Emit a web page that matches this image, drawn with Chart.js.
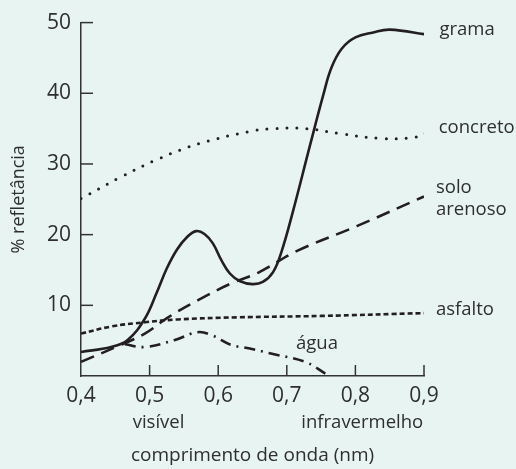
<!DOCTYPE html>
<html>
<head>
<meta charset="utf-8">
<script src="https://cdn.jsdelivr.net/npm/chart.js@4.4.0/dist/chart.umd.min.js"></script>
<style>
  html, body { margin: 0; padding: 0; background: #e8f4f2; }
  #wrap { width: 516px; height: 469px; }
</style>
</head>
<body>
<div id="wrap"><canvas id="ch"></canvas></div>
<script>
// values (wavelength on x, reflectance % on y)
const gramaX = [0.4, 0.444, 0.468, 0.493, 0.51, 0.525, 0.54, 0.555, 0.568, 0.58, 0.592, 0.604, 0.617, 0.632, 0.65, 0.665, 0.68, 0.692, 0.709, 0.734, 0.753, 0.765, 0.78, 0.8, 0.826, 0.85, 0.905];
const gramaY = [3.4, 4.1, 5.1, 8.1, 11.7, 15.2, 17.9, 19.7, 20.5, 20.1, 18.8, 16.5, 14.5, 13.4, 13.0, 13.3, 14.7, 17.5, 23.3, 32.7, 39.7, 43.6, 46.3, 47.9, 48.6, 49.0, 48.3];

const concretoX = [0.4, 0.457, 0.515, 0.573, 0.651, 0.68, 0.729, 0.777, 0.84, 0.887, 0.904];
const concretoY = [25.1, 28.1, 30.8, 32.9, 34.7, 35.0, 35.0, 34.3, 33.6, 33.8, 34.4];

const soloX = [0.4, 0.458, 0.493, 0.527, 0.57, 0.619, 0.658, 0.715, 0.802, 0.9];
const soloY = [2.0, 4.4, 6.0, 8.3, 10.7, 13.1, 14.6, 17.7, 21.2, 25.4];

const asfaltoX = [0.4, 0.444, 0.493, 0.541, 0.627, 0.75, 0.9];
const asfaltoY = [6.0, 7.0, 7.6, 8.0, 8.3, 8.5, 8.9];

const aguaX = [0.464, 0.493, 0.537, 0.57, 0.59, 0.619, 0.646, 0.68, 0.727, 0.757];
const aguaY = [4.5, 4.1, 5.1, 6.2, 5.8, 4.4, 3.9, 3.1, 2.0, 0.3];

const xTicks = [0.4, 0.5, 0.6, 0.7, 0.8, 0.9];
const yTicks = [10, 20, 30, 40, 50];

const seriesNames = ["grama", "concreto", "solo arenoso", "asfalto", "água"];
const bandLabels = ["visível", "infravermelho"];
const bandCenters = [0.513, 0.81];

const INK = "#231f20";
const TXT = "#2e2e2e";
const FONT = "'Open Sans', sans-serif";

const pts = (xs, ys) => xs.map((x, i) => ({ x: x, y: ys[i] }));

function series(label, xs, ys, dash, width, cap) {
  return {
    label: label,
    data: pts(xs, ys),
    borderColor: INK,
    borderWidth: width,
    borderDash: dash,
    borderCapStyle: cap || "butt",
    pointRadius: 0,
    tension: 0.4,
    fill: false
  };
}

// inward tick marks + text labels for the series and the bands
const decorations = {
  id: "decorations",
  afterDraw(chart) {
    const ctx = chart.ctx;
    const xs = chart.scales.x, ys = chart.scales.y;
    const area = chart.chartArea;
    ctx.save();
    ctx.strokeStyle = "#333";
    ctx.lineWidth = 1.5;
    yTicks.forEach(v => {
      const py = ys.getPixelForValue(v);
      ctx.beginPath();
      ctx.moveTo(area.left, py);
      ctx.lineTo(area.left + 12, py);
      ctx.stroke();
    });
    xTicks.slice(1).forEach(v => {
      const px = xs.getPixelForValue(v);
      ctx.beginPath();
      ctx.moveTo(px, area.bottom);
      ctx.lineTo(px, area.bottom - 11);
      ctx.stroke();
    });

    ctx.fillStyle = TXT;
    ctx.font = "18.5px " + FONT;
    ctx.textBaseline = "middle";

    // end-of-line labels
    ctx.textAlign = "left";
    const dy = [-5, -5, 0, -3];
    [0, 1, 2, 3].forEach(i => {
      const meta = chart.getDatasetMeta(i);
      const last = meta.data[meta.data.length - 1];
      const lx = last.x + 12;
      if (i === 2) {
        const parts = seriesNames[i].split(" ");
        ctx.fillText(parts[0], lx, last.y - 9);
        ctx.fillText(parts[1], lx, last.y + 13);
      } else {
        ctx.fillText(seriesNames[i], lx, last.y + dy[i]);
      }
    });
    ctx.textAlign = "center";
    ctx.fillText(seriesNames[4], xs.getPixelForValue(0.744), ys.getPixelForValue(4.6));

    // band labels under the tick labels
    bandLabels.forEach((t, i) => {
      ctx.fillText(t, xs.getPixelForValue(bandCenters[i]), area.bottom + 47);
    });
    ctx.restore();
  }
};

new Chart(document.getElementById("ch"), {
  type: "line",
  data: {
    datasets: [
      series(seriesNames[0], gramaX, gramaY, [], 2.6),
      series(seriesNames[1], concretoX, concretoY, [0, 10], 3, "round"),
      series(seriesNames[2], soloX, soloY, [14, 8], 2.6),
      series(seriesNames[3], asfaltoX, asfaltoY, [5, 3], 2.6),
      series(seriesNames[4], aguaX, aguaY, [11, 6, 2, 6], 2.6)
    ]
  },
  options: {
    responsive: true,
    maintainAspectRatio: false,
    animation: false,
    layout: { padding: { left: 0, right: 92, top: 20, bottom: 0 } },
    plugins: { legend: { display: false }, tooltip: { enabled: false } },
    scales: {
      x: {
        type: "linear",
        min: 0.4,
        max: 0.9,
        afterBuildTicks: s => { s.ticks = xTicks.map(v => ({ value: v })); },
        afterFit: s => { s.height = 93; },
        ticks: {
          color: TXT,
          font: { family: FONT, size: 21 },
          padding: 7,
          maxRotation: 0,
          callback: v => v.toFixed(1).replace(".", ",")
        },
        grid: { display: false, drawTicks: false },
        border: { display: true, color: "#333", width: 1.5 },
        title: {
          display: true,
          text: "comprimento de onda (nm)",
          color: TXT,
          font: { family: FONT, size: 19 },
          padding: { top: 0, bottom: 2 }
        }
      },
      y: {
        min: 0,
        max: 50,
        afterBuildTicks: s => { s.ticks = yTicks.map(v => ({ value: v })); },
        afterFit: s => { s.width = 81; },
        ticks: {
          color: TXT,
          font: { family: FONT, size: 21 },
          padding: 10
        },
        grid: { display: false, drawTicks: false },
        border: { display: true, color: "#333", width: 1.5 },
        title: {
          display: true,
          text: "% refletância",
          color: TXT,
          font: { family: FONT, size: 18 },
          padding: { top: 8, bottom: 0 }
        }
      }
    }
  },
  plugins: [decorations]
});
</script>
</body>
</html>
